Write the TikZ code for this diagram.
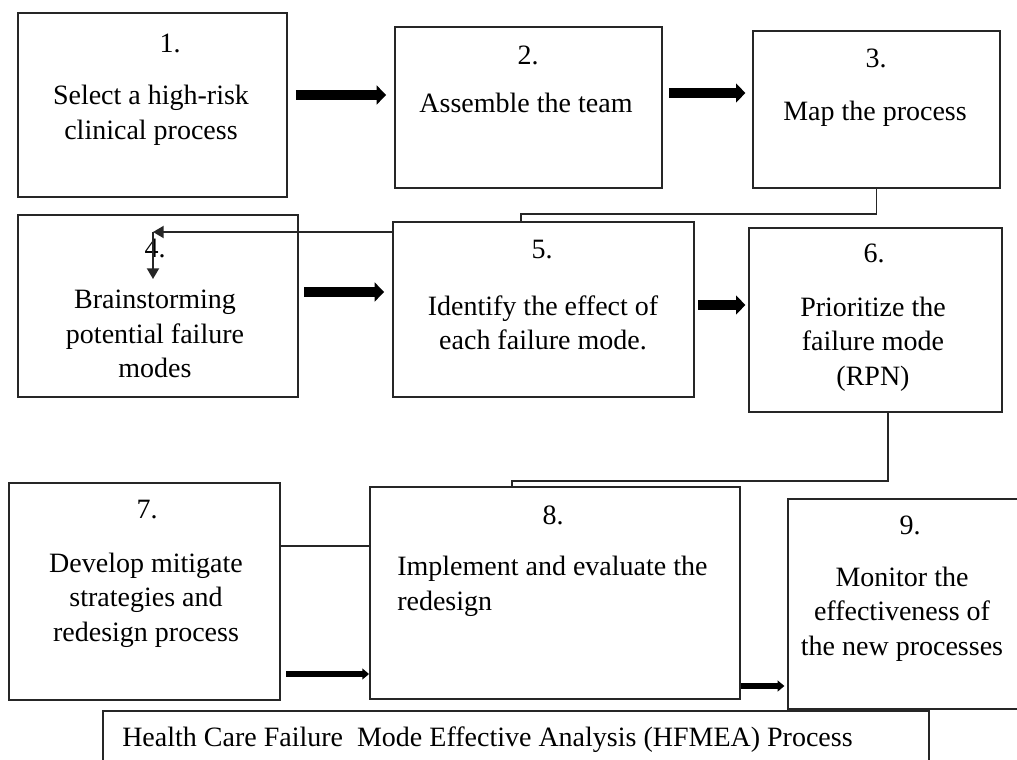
\documentclass[tikz,border=0pt]{standalone}
\usepackage{fontspec}
\setmainfont{Liberation Serif}
\usetikzlibrary{arrows.meta,fit}
\begin{document}
\begin{tikzpicture}[x=0.75pt,y=-0.75pt,
  box/.style={draw=black!85, line width=1.4pt, inner sep=0pt, fit={#1}},
  txt/.style={font=\fontsize{21}{26}\selectfont, align=center, inner sep=0pt, text=black},
  num/.style={txt},
  conn/.style={draw=black!85, line width=1.4pt},
  bigarrow/.style={line width=7pt, -{Triangle[length=7pt,width=14pt]}},
  smallarrow/.style={line width=4pt, -{Triangle[length=5pt,width=8pt]}},
  tiparrow/.style={conn, -{Triangle[length=8pt,width=9pt]}}]
\useasboundingbox (0,0) rectangle (1017,760);
% boxes
\node[box={(18,13)(287,197)}] (b1) {};
\node[box={(395,27)(662,188)}] (b2) {};
\node[box={(753,31)(1000,188)}] (b3) {};
\node[box={(18,215)(298,397)}] (b4) {};
\node[box={(393,222)(694,397)}] (b5) {};
\node[box={(749,228)(1002,412)}] (b6) {};
\node[box={(9,483)(280,700)}] (b7) {};
\node[box={(370,487)(740,699)}] (b8) {};
\node[box={(788,499)(1022,709)}] (b9) {};
\node[box={(103,711)(929,766)}] (bc) {};
% texts
\node[num] (n1) at (170,43) {1.};
\node[txt] (t1) at (151,115) {Select a high-risk\\clinical process};
\node[num] (n2) at (528,55) {2.};
\node[txt] (t2) at (526,103) {Assemble the team};
\node[num] (n3) at (876,58) {3.};
\node[txt] (t3) at (875,114) {Map the process};
\node[num] (n4) at (155,248) {4.};
\node[txt] (t4) at (155,334) {Brainstorming\\potential failure\\modes};
\node[num] (n5) at (542,250) {5.};
\node[txt] (t5) at (543,323) {Identify the effect of\\each failure mode.};
\node[num] (n6) at (874,253) {6.};
\node[txt] (t6) at (873,344) {Prioritize the\\failure mode\\(RPN)};
\node[num] (n7) at (147,510) {7.};
\node[txt] (t7) at (146,600) {Develop mitigate\\strategies and\\redesign process};
\node[num] (n8) at (553,515) {8.};
\node[txt, align=left, anchor=west] (t8) at (397,586) {Implement and evaluate the\\redesign};
\node[num] (n9) at (910,525) {9.};
\node[txt] (t9) at (902,614) {Monitor the\\effectiveness of\\the new processes};
\node[txt, anchor=west] (tc) at (122,740) {Health Care Failure\ \ Mode Effective Analysis (HFMEA) Process};
% helper coordinates
\coordinate (y12) at (0,95);
\coordinate (y23) at (0,93);
\coordinate (y45) at (0,292);
\coordinate (y56) at (0,305);
\coordinate (y78) at (0,674);
\coordinate (y89) at (0,686);
\coordinate (k1) at (521,214);
\coordinate (k2) at (153,232);
\coordinate (k3) at (153,279);
\coordinate (k4) at (888,481);
\coordinate (k5) at (512,481);
\coordinate (k6) at (0,546);
% thick arrows
\draw[bigarrow, shorten <=6pt, shorten >=6pt] (b1.east |- y12) -- (b2.west |- y12);
\draw[bigarrow, shorten <=4.5pt, shorten >=5pt] (b2.east |- y23) -- (b3.west |- y23);
\draw[bigarrow, shorten <=4pt, shorten >=6pt] (b4.east |- y45) -- (b5.west |- y45);
\draw[bigarrow, line width=8pt, shorten <=2.5pt, shorten >=2pt] (b5.east |- y56) -- (b6.west |- y56);
\draw[smallarrow, shorten <=4pt] (b7.east |- y78) -- (b8.west |- y78);
\draw[smallarrow, shorten >=2pt] (b8.east |- y89) -- (b9.west |- y89);
% thin connectors
\draw[conn] (b3.south) |- (k1) -- (k1 |- b5.north);
\draw[tiparrow] (b5.west |- k2) -- (k2);
\draw[tiparrow] (k2) -- (k3);
\draw[conn] (k4 |- b6.south) -- (k4) -- (k5) -- (k5 |- b8.north);
\draw[conn] (b7.east |- k6) -- (b8.west |- k6);
\end{tikzpicture}
\end{document}
